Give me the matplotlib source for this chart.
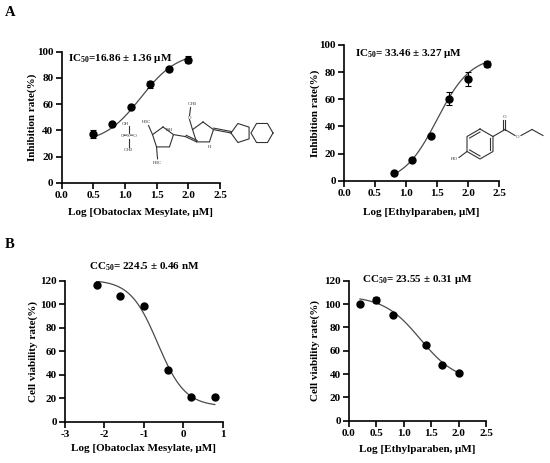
import numpy as np
import matplotlib
matplotlib.use('Agg')
import matplotlib.pyplot as plt

plt.rcParams['font.family'] = 'Liberation Serif'
plt.rcParams['font.weight'] = 'bold'
plt.rcParams['mathtext.fontset'] = 'custom'
plt.rcParams['mathtext.rm'] = 'Liberation Serif:bold'
plt.rcParams['mathtext.bf'] = 'Liberation Serif:bold'
plt.rcParams['mathtext.default'] = 'rm'

# ---------------- data ----------------
a1_x = [0.5, 0.8, 1.1, 1.4, 1.7, 2.0]
a1_y = [37, 45, 57.5, 75, 86.5, 94]
a1_err = [3, 1.5, 1.5, 2.5, 1.5, 2.5]
a1_fit = [30, 100, 1.25, 1.5]          # bottom, top, logEC50, hill

a2_x = [0.8, 1.1, 1.4, 1.7, 2.0, 2.3]
a2_y = [5.5, 15, 33, 60.5, 75, 86]
a2_err = [1, 1.5, 1, 5, 5, 2.5]
a2_fit = [-2, 92, 1.5, 1.6]

b1_x = [-2.2, -1.6, -1.0, -0.4, 0.2, 0.8]
b1_y = [117, 107.5, 99, 44.5, 21, 21]
b1_err = [0, 0, 0, 0, 0, 0]
b1_fit = [13, 121, -0.65, -1.25]

b2_x = [0.2, 0.5, 0.8, 1.4, 1.7, 2.0]
b2_y = [100, 103.5, 91, 65, 48, 41]
b2_err = [2, 2.5, 1, 1, 1, 1]
b2_fit = [33, 107, 1.3, -1.3]

a1_ticks_x = [0.0, 0.5, 1.0, 1.5, 2.0, 2.5]
a_ticks_y = [0, 20, 40, 60, 80, 100]
b1_ticks_x = [-3, -2, -1, 0, 1]
b_ticks_y = [0, 20, 40, 60, 80, 100, 120]

W, H = 550, 463
fig = plt.figure(figsize=(W / 100, H / 100), dpi=100)
FS = 8


def px_axes(l, r, t, b):
    return fig.add_axes([l / W, 1 - b / H, (r - l) / W, (b - t) / H])


def logistic(x, p):
    bottom, top, ec, hill = p
    return bottom + (top - bottom) / (1 + 10 ** ((ec - x) * hill))


def style(ax, xlim, ylim, xt, yt, xfmt, xlab, ylab, xl_y, yl_x):
    ax.set_xlim(*xlim)
    ax.set_ylim(*ylim)
    ax.set_xticks(xt)
    ax.set_yticks(yt)
    ax.set_xticklabels([xfmt(v) for v in xt])
    for s in ['top', 'right']:
        ax.spines[s].set_visible(False)
    for s in ['left', 'bottom']:
        ax.spines[s].set_linewidth(1.2)
    ax.tick_params(direction='out', length=4, width=1.2, labelsize=FS, pad=2)
    for lab in ax.get_xticklabels() + ax.get_yticklabels():
        lab.set_fontweight('bold')
    ax.set_xlabel(xlab, fontsize=FS, fontweight='bold', va='center')
    ax.set_ylabel(ylab, fontsize=FS, fontweight='bold', va='center')
    ax.xaxis.set_label_coords(0.5, xl_y)
    ax.yaxis.set_label_coords(yl_x, 0.5)


def plot_panel(ax, x, y, err, p):
    xs = np.linspace(min(x), max(x), 200)
    ax.plot(xs, logistic(xs, p), color='#4a4a4a', lw=0.9, zorder=2)
    ax.errorbar(x, y, yerr=err, fmt='o', color='black', ms=5, elinewidth=0.8,
                capsize=2, capthick=0.8, zorder=3, clip_on=False)


f1 = lambda v: f'{v:.1f}'
fi = lambda v: f'{v:d}'

# A left
ax1 = px_axes(61.7, 220, 51.7, 182.7)
plot_panel(ax1, a1_x, a1_y, a1_err, a1_fit)
style(ax1, (0, 2.5), (0, 100), a1_ticks_x, a_ticks_y, f1,
      'Log [Obatoclax Mesylate, μM]', 'Inhibition rate(%)', -0.224, -0.188)
ax1.text(0.1, 94.5, 'IC$_{50}$=16.86 ± 1.36 μM', fontsize=FS, fontweight='bold', va='center')

# A right
ax2 = px_axes(344, 499, 45, 180.7)
plot_panel(ax2, a2_x, a2_y, a2_err, a2_fit)
style(ax2, (0, 2.5), (0, 100), a1_ticks_x, a_ticks_y, f1,
      'Log [Ethylparaben, μM]', 'Inhibition rate(%)', -0.231, -0.187)
ax2.text(0.18, 94, 'IC$_{50}$= 33.46 ± 3.27 μM', fontsize=FS, fontweight='bold', va='center')

# B left
ax3 = px_axes(65, 222.7, 281, 421.7)
plot_panel(ax3, b1_x, b1_y, b1_err, b1_fit)
style(ax3, (-3, 1), (0, 120), b1_ticks_x, b_ticks_y, fi,
      'Log [Obatoclax Mesylate, μM]', 'Cell viability rate(%)', -0.194, -0.203)
ax3.text(0.5, 1.1, 'CC$_{50}$= 224.5 ± 0.46 nM', transform=ax3.transAxes,
         fontsize=FS, fontweight='bold', ha='center', va='center')

# B right
ax4 = px_axes(349, 486, 280.7, 420.7)
plot_panel(ax4, b2_x, b2_y, b2_err, b2_fit)
style(ax4, (0, 2.5), (0, 120), a1_ticks_x, b_ticks_y, f1,
      'Log [Ethylparaben, μM]', 'Cell viability rate(%)', -0.209, -0.248)
ax4.text(0.5, 1.01, 'CC$_{50}$= 23.55 ± 0.31 μM', transform=ax4.transAxes,
         fontsize=FS, fontweight='bold', ha='center', va='center')

# panel letters
fig.text(5 / W, 1 - 13 / H, 'A', fontsize=10.5, fontweight='bold', va='center')
fig.text(5 / W, 1 - 244 / H, 'B', fontsize=10.5, fontweight='bold', va='center')

# ---------------- chemical structure sketches (decoration) ----------------
ov = fig.add_axes([0, 0, 1, 1], zorder=5)
ov.set_xlim(0, W)
ov.set_ylim(H, 0)
ov.axis('off')
ov.patch.set_alpha(0)
LC = '#333333'
LW = 0.8


def ring(cx, cy, r, n, rot):
    ang = np.deg2rad(rot + np.arange(n) * 360 / n)
    return cx + r * np.cos(ang), cy - r * np.sin(ang)


def draw_ring(cx, cy, r, n, rot):
    xs, ys = ring(cx, cy, r, n, rot)
    ov.plot(np.append(xs, xs[0]), np.append(ys, ys[0]), color=LC, lw=LW)
    return xs, ys


def bond(p, q, double=False):
    ov.plot([p[0], q[0]], [p[1], q[1]], color=LC, lw=LW)
    if double:
        d = np.array([q[1] - p[1], p[0] - q[0]], float)
        d = d / np.hypot(*d) * 1.5
        ov.plot([p[0] + d[0], q[0] + d[0]], [p[1] + d[1], q[1] + d[1]], color=LC, lw=LW)


def label(x, y, s, fs=3.5):
    ov.text(x, y, s, fontsize=fs, ha='center', va='center', color=LC, fontweight='normal')


# ethylparaben (vertex 0 top, 1 upper-left, 2 lower-left, 3 bottom, 4 lower-right, 5 upper-right)
cx, cy = 480, 144
bx, by = draw_ring(cx, cy, 15, 6, 90)
for i in (0, 2, 4):
    j = (i + 1) % 6
    px_, py_ = bx[i] + (cx - bx[i]) * 0.2, by[i] + (cy - by[i]) * 0.2
    qx_, qy_ = bx[j] + (cx - bx[j]) * 0.2, by[j] + (cy - by[j]) * 0.2
    ov.plot([px_, qx_], [py_, qy_], color=LC, lw=LW)
bond((bx[2], by[2]), (bx[2] - 8, by[2] + 6))
label(bx[2] - 13, by[2] + 8, 'HO')
c1 = (bx[5] + 12, by[5] - 7)
bond((bx[5], by[5]), c1)
bond(c1, (c1[0], c1[1] - 10), double=True)
label(c1[0], c1[1] - 13, 'O')
bond(c1, (c1[0] + 10, c1[1] + 6))
label(c1[0] + 13, c1[1] + 8, 'O')
bond((c1[0] + 16, c1[1] + 6), (c1[0] + 27, c1[1]))
bond((c1[0] + 27, c1[1]), (c1[0] + 38, c1[1] + 6))

# obatoclax mesylate
label(125, 124, 'OH')
label(129, 136, 'O═S═O')
label(128, 150, 'CH$_3$')
ov.plot([129, 129], [126, 133], color=LC, lw=LW)
ov.plot([129, 129], [139, 147], color=LC, lw=LW)

p1x, p1y = draw_ring(163, 138, 11, 5, 90)
label(p1x[0] + 6, p1y[0] + 3, 'NH')
bond((p1x[1], p1y[1]), (p1x[1] - 4, p1y[1] - 9))
label(p1x[1] - 6, p1y[1] - 12, 'H$_3$C')
bond((p1x[2], p1y[2]), (p1x[2] + 1, p1y[2] + 12))
label(p1x[2] + 1, p1y[2] + 16, 'H$_3$C')
bond((p1x[4], p1y[4]), (p1x[4] + 12, p1y[4] + 2))
p2x, p2y = draw_ring(203, 133, 11, 5, 90)
bond((p1x[4] + 12, p1y[4] + 2), (p2x[2], p2y[2]), double=True)
label(p2x[3], p2y[3] + 5, 'H')
bond((p2x[1], p2y[1]), (p2x[1] - 3, p2y[1] - 10))
label(p2x[1] - 3, p2y[1] - 12, 'O')
bond((p2x[1] - 3, p2y[1] - 14), (p2x[1] - 2, p2y[1] - 22))
label(p2x[1], p2y[1] - 25, 'CH$_3$')
p3x, p3y = draw_ring(241, 133, 10, 5, 180)
bond((p2x[4], p2y[4]), (p3x[0], p3y[0]), double=True)
hx, hy = draw_ring(262, 133, 11, 6, 0)

fig.savefig('out.png', dpi=100)
